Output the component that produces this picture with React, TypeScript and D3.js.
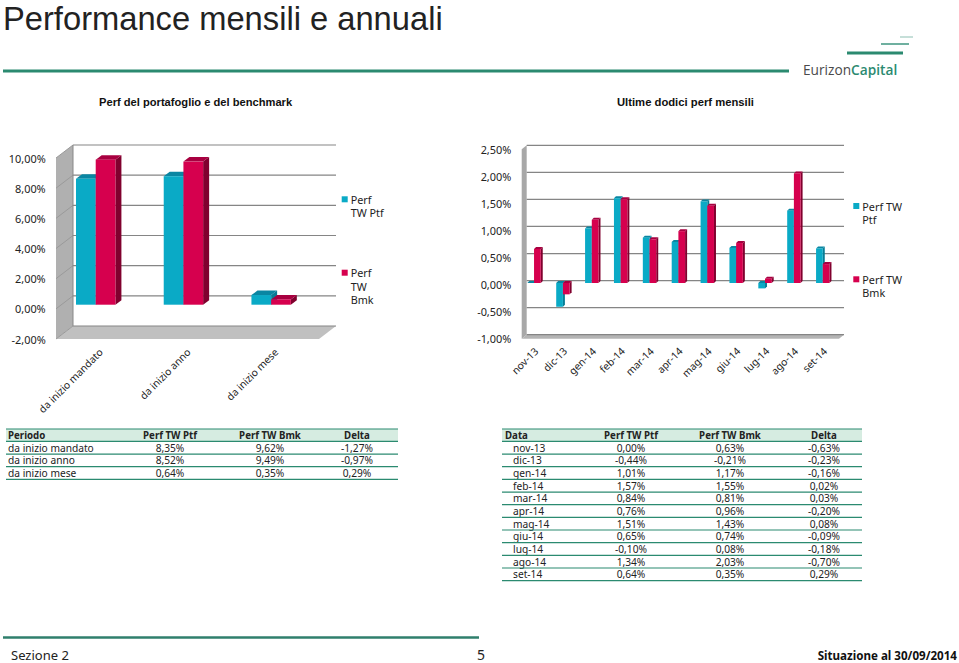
import React from "react";
import * as d3 from "d3";

const periodCats = ["da inizio mandato", "da inizio anno", "da inizio mese"];
const periodPtf = [8.35, 8.52, 0.64];
const periodBmk = [9.62, 9.49, 0.35];
const periodDelta = [-1.27, -0.97, 0.29];
const periodTicks = [-2, 0, 2, 4, 6, 8, 10];

const months = ["nov-13", "dic-13", "gen-14", "feb-14", "mar-14", "apr-14", "mag-14", "giu-14", "lug-14", "ago-14", "set-14"];
const monthPtf = [0.0, -0.44, 1.01, 1.57, 0.84, 0.76, 1.51, 0.65, -0.1, 1.34, 0.64];
const monthBmk = [0.63, -0.21, 1.17, 1.55, 0.81, 0.96, 1.43, 0.74, 0.08, 2.03, 0.35];
const monthDelta = [-0.63, -0.23, -0.16, 0.02, 0.03, -0.2, 0.08, -0.09, -0.18, -0.7, 0.29];
const monthTicks = [-1, -0.5, 0, 0.5, 1, 1.5, 2, 2.5];

const tableCols = ["Perf TW Ptf", "Perf TW Bmk", "Delta"];

const TAHOMA = "'Noto Sans', 'DejaVu Sans', sans-serif";
const ARIAL = "'Liberation Sans', Arial, sans-serif";
const GREEN = "#2b8a70";
const TEAL = { front: "#0aaac6", top: "#0a86a2", side: "#077d96" };
const RED = { front: "#d6004e", top: "#a80040", side: "#80002e" };
const pct = (v: number) => v.toFixed(2).replace(".", ",") + "%";

function Prism({ x, w, y0, y1, dx, dy, c }: any) {
  const top = Math.min(y0, y1);
  const bot = Math.max(y0, y1);
  return (
    <g>
      <polygon points={`${x + w},${top} ${x + w + dx},${top - dy} ${x + w + dx},${bot - dy} ${x + w},${bot}`} fill={c.side} />
      <polygon points={`${x},${top} ${x + dx},${top - dy} ${x + w + dx},${top - dy} ${x + w},${top}`} fill={c.top} />
      <rect x={x} y={top} width={w} height={bot - top} fill={c.front} />
    </g>
  );
}

function Legend({ x, y, lines, c }: any) {
  return (
    <g fontFamily={TAHOMA} fontSize={10.8} fill="#222">
      <rect x={x} y={y - 3} width={6} height={6} fill={c} />
      {lines.map((l: string, i: number) => (
        <text key={i} x={x + 9} y={y + i * 13.3} dominantBaseline="central">{l}</text>
      ))}
    </g>
  );
}

function PeriodChart() {
  const wall = { l: 73, r: 336, t: 145, b: 326 };
  const dxW = 17, dyW = 13;
  const yWall = d3.scaleLinear().domain([-2, 10]).range([wall.b, wall.t]);
  const yLab = d3.scaleLinear().domain([-2, 10]).range([339, 158]);
  const yBar = d3.scaleLinear().domain([0, 10]).range([304.7, 153.9]);
  const xBand = d3.scaleBand<string>().domain(periodCats).range([51.85, 315]);
  const bw = 19.7;
  return (
    <g>
      <rect x={wall.l} y={wall.t} width={wall.r - wall.l} height={wall.b - wall.t} fill="#fff" />
      <polygon points={`${wall.l},${wall.t} ${wall.l - dxW},${wall.t + dyW} ${wall.l - dxW},${wall.b + dyW} ${wall.l},${wall.b}`} fill="#b0b0b0" />
      <polygon points={`${wall.l},${wall.b} ${wall.r},${wall.b} ${wall.r - dxW},${wall.b + dyW} ${wall.l - dxW},${wall.b + dyW}`} fill="#c0c0c0" />
      {periodTicks.map((t) => (
        <g key={t}>
          <line x1={wall.l} x2={wall.r} y1={yWall(t)} y2={yWall(t)} stroke="#858585" strokeWidth={1.2} />
          <line x1={wall.l} x2={wall.l - dxW} y1={yWall(t)} y2={yWall(t) + dyW} stroke="#9a9a9a" strokeWidth={1} />
          <text x={45.7} y={yLab(t)} textAnchor="end" dominantBaseline="central" fontFamily={TAHOMA} fontSize={10.9} fill="#222">{pct(t)}</text>
        </g>
      ))}
      <line x1={wall.l} x2={wall.l} y1={wall.t} y2={wall.b} stroke="#888" strokeWidth={1} />
      {periodCats.map((c, i) => {
        const mid = (xBand(c) as number) + xBand.bandwidth() / 2;
        return (
          <g key={c}>
            <Prism x={mid - bw} w={bw} y0={yBar(0)} y1={yBar(periodPtf[i])} dx={6} dy={4.5} c={TEAL} />
            <Prism x={mid} w={bw} y0={yBar(0)} y1={yBar(periodBmk[i])} dx={6} dy={4.5} c={RED} />
            <text transform={`translate(${mid + 8},353) rotate(-45)`} textAnchor="end" fontFamily={TAHOMA} fontSize={10.2} fill="#222">{c}</text>
          </g>
        );
      })}
      <Legend x={341.7} y={199.3} lines={["Perf", "TW Ptf"]} c={TEAL.front} />
      <Legend x={341.7} y={272.7} lines={["Perf", "TW", "Bmk"]} c={RED.front} />
    </g>
  );
}

function MonthChart() {
  const wall = { l: 526.7, r: 844, t: 145.3, b: 334.7 };
  const dxW = 5, dyW = 4;
  const yWall = d3.scaleLinear().domain([-1, 2.5]).range([wall.b, wall.t]);
  const yLab = d3.scaleLinear().domain([-1, 2.5]).range([338.7, 149.3]);
  const yBar = d3.scaleLinear().domain([0, 2]).range([283, 175]);
  const xBand = d3.scaleBand<string>().domain(months).range([519.6, 837.2]);
  const bw = 6.7;
  return (
    <g>
      <polygon points={`${wall.l},${wall.t} ${wall.l - dxW},${wall.t + dyW} ${wall.l - dxW},${wall.b + dyW} ${wall.l},${wall.b}`} fill="#a8a8a8" />
      <polygon points={`${wall.l},${wall.b} ${wall.r},${wall.b} ${wall.r - dxW},${wall.b + dyW} ${wall.l - dxW},${wall.b + dyW}`} fill="#b4b4b4" />
      {monthTicks.map((t) => (
        <g key={t}>
          <line x1={wall.l} x2={wall.r} y1={yWall(t)} y2={yWall(t)} stroke="#858585" strokeWidth={1.2} />
          <text x={511.3} y={yLab(t)} textAnchor="end" dominantBaseline="central" fontFamily={TAHOMA} fontSize={10.9} fill="#222">{pct(t)}</text>
        </g>
      ))}
      {months.map((m, i) => {
        const mid = (xBand(m) as number) + xBand.bandwidth() / 2;
        return (
          <g key={m}>
            <Prism x={mid - bw} w={bw} y0={yBar(0)} y1={yBar(monthPtf[i])} dx={2} dy={2} c={TEAL} />
            <Prism x={mid} w={bw} y0={yBar(0)} y1={yBar(monthBmk[i])} dx={2} dy={2} c={RED} />
            <text transform={`translate(${mid + 5},352) rotate(-45)`} textAnchor="end" fontFamily={TAHOMA} fontSize={10.2} fill="#222">{m}</text>
          </g>
        );
      })}
      <Legend x={853.3} y={206} lines={["Perf TW", "Ptf"]} c={TEAL.front} />
      <Legend x={853.3} y={279.3} lines={["Perf TW", "Bmk"]} c={RED.front} />
    </g>
  );
}

function Table({ x0, x1, top, head, labels, indent, labelX, colX, cols }: any) {
  const y = d3.scaleLinear().domain([0, 1]).range([top + 12.4, top + 12.4 + 12.66]);
  const rule = (yy: number, w: number, k: string) => (
    <line key={k} x1={x0} x2={x1} y1={yy} y2={yy} stroke={GREEN} strokeWidth={w} />
  );
  return (
    <g fontFamily={TAHOMA} fontSize={10.2} fill="#222">
      <rect x={x0} y={top} width={x1 - x0} height={12.4} fill="#d6ece1" />
      {rule(top, 1.2, "t")}
      {rule(y(0), 1.2, "h")}
      <text x={labelX} y={top + 6.4} dominantBaseline="central" fontWeight={700} fontSize={9.7}>{head}</text>
      {tableCols.map((c, j) => (
        <text key={c} x={colX[j]} y={top + 6.4} textAnchor="middle" dominantBaseline="central" fontWeight={700} fontSize={9.7}>{c}</text>
      ))}
      {labels.map((l: string, i: number) => (
        <g key={l}>
          <text x={labelX + indent} y={y(i) + 6.4} dominantBaseline="central">{l}</text>
          {cols.map((col: number[], j: number) => (
            <text key={j} x={colX[j]} y={y(i) + 6.4} textAnchor="middle" dominantBaseline="central">{pct(col[i])}</text>
          ))}
          {rule(y(i + 1), 1.2, "r" + i)}
        </g>
      ))}
    </g>
  );
}

export default function App() {
  return (
    <svg width={959} height={663} viewBox="0 0 959 663" style={{ position: "absolute", left: 0, top: 0, background: "#fff" }}>
      <text x={3} y={30} fontFamily={ARIAL} fontSize={32.7} fill="#222">Performance mensili e annuali</text>
      <line x1={3} x2={789} y1={71} y2={71} stroke={GREEN} strokeWidth={3} />
      <line x1={847} x2={903} y1={53} y2={53} stroke={GREEN} strokeWidth={3} />
      <line x1={881} x2={909} y1={44} y2={44} stroke="#5fa896" strokeWidth={1.8} />
      <line x1={900} x2={913} y1={37} y2={37} stroke="#8dbfb2" strokeWidth={1} />
      <text x={803} y={75} fontFamily="'Open Sans', sans-serif" fontSize={13.7} fill="#4a4a4a">
        Eurizon<tspan fill="#2b8a70" fontWeight={600}>Capital</tspan>
      </text>
      <text x={99} y={106} fontFamily={ARIAL} fontSize={11.15} fontWeight={700} fill="#111">Perf del portafoglio e del benchmark</text>
      <text x={617} y={106} fontFamily={ARIAL} fontSize={11.25} fontWeight={700} fill="#111">Ultime dodici perf mensili</text>
      <PeriodChart />
      <MonthChart />
      <Table x0={6} x1={398} top={429} head="Periodo" labels={periodCats} indent={0} labelX={8} colX={[170, 270, 357]} cols={[periodPtf, periodBmk, periodDelta]} />
      <Table x0={502} x1={862} top={429} head="Data" labels={months} indent={8} labelX={505} colX={[631, 730, 824]} cols={[monthPtf, monthBmk, monthDelta]} />
      <line x1={3} x2={479} y1={637.5} y2={637.5} stroke="#2f7f6c" strokeWidth={2.4} />
      <text x={11} y={660} fontFamily={TAHOMA} fontSize={13} fill="#222">Sezione 2</text>
      <text x={477} y={660} fontFamily={TAHOMA} fontSize={14} fill="#222">5</text>
      <text x={957} y={660} textAnchor="end" fontFamily={TAHOMA} fontSize={11.6} fontWeight={700} fill="#111">Situazione al 30/09/2014</text>
    </svg>
  );
}
